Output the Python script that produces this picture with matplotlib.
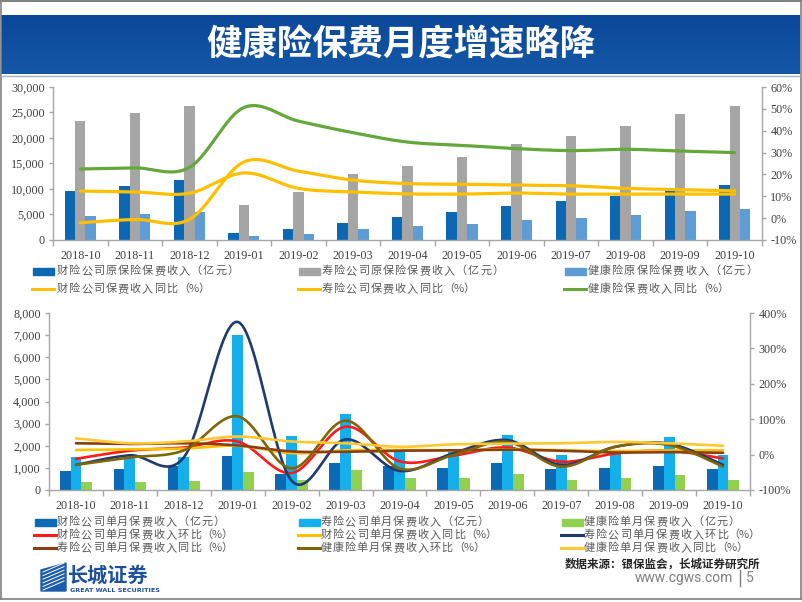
import numpy as np
import matplotlib
matplotlib.use("Agg")
import matplotlib.pyplot as plt
from matplotlib.patches import Rectangle, Polygon
from matplotlib.lines import Line2D
from matplotlib.ticker import FuncFormatter, FixedLocator
from matplotlib.colors import LinearSegmentedColormap

plt.rcParams['font.family'] = ['Noto Sans CJK SC', 'DejaVu Sans']

# ---------------- data ----------------
months = ['2018-10', '2018-11', '2018-12', '2019-01', '2019-02', '2019-03', '2019-04',
          '2019-05', '2019-06', '2019-07', '2019-08', '2019-09', '2019-10']

# top chart: cumulative premiums (亿元) and YoY (%)
prop_cum = [9600, 10600, 11750, 1430, 2160, 3400, 4500, 5500, 6670, 7650, 8700, 9800, 10700]
life_cum = [23400, 24840, 26270, 6930, 9400, 12880, 14580, 16340, 18820, 20390, 22350, 24780, 26340]
health_cum = [4640, 5040, 5490, 780, 1180, 2090, 2740, 3200, 3920, 4370, 4970, 5690, 6080]
prop_cum_yoy = [12.4, 12.0, 11.4, 20.7, 13.6, 12.0, 11.1, 11.0, 11.5, 11.0, 11.0, 11.0, 11.0]
life_cum_yoy = [-2.1, -0.6, -0.6, 25.7, 21.5, 17.4, 15.8, 15.5, 15.1, 14.8, 13.6, 13.1, 12.5]
health_cum_yoy = [22.5, 23.0, 23.2, 50.6, 44.4, 39.1, 34.8, 33.3, 31.8, 30.9, 31.5, 30.7, 30.0]

# bottom chart: single-month premiums (亿元) and growth (%)
prop_m = [870, 950, 1100, 1520, 710, 1240, 1085, 1010, 1210, 965, 995, 1100, 965]
life_m = [1510, 1480, 1480, 7010, 2440, 3440, 1720, 1730, 2490, 1580, 1730, 2400, 1580]
health_m = [375, 345, 390, 800, 450, 900, 545, 530, 710, 450, 530, 680, 450]
prop_mom = [-12, 11, 20, 37, -52, 79, -19, -3, 20, -20, 3, 11, -11]
prop_yoy_m = [13, 15, 17, 25, 4, 12, 13, 12, 15, 12, 10, 12, 12]
life_mom = [-29, -2, -8, 375, -74, 43, -46, 4, 41, -29, 22, 31, -29]
life_yoy_m = [32, 30, 32, 26, 9, 8, 11, 12, 14, 11, 6, 7, 5]
health_mom = [-29, -8, 12, 108, -39, 96, -39, -1, 36, -34, 22, 27, -34]
health_yoy_m = [46, 32, 37, 51, 37, 32, 22, 29, 31, 32, 36, 32, 25]

W, H = 802, 602
fig = plt.figure(figsize=(W / 100, H / 100), dpi=100)


def fx(px):
    return px / W


def fy(py):
    return 1 - py / H


def smooth(xs, ys, n=24):
    xs = np.asarray(xs, float)
    ys = np.asarray(ys, float)
    P = np.column_stack([xs, ys])
    out = []
    for i in range(len(P) - 1):
        p0 = P[i - 1] if i > 0 else P[i]
        p1 = P[i]
        p2 = P[i + 1]
        p3 = P[i + 2] if i + 2 < len(P) else P[i + 1]
        c1 = p1 + (p2 - p0) / 6.0
        c2 = p2 - (p3 - p1) / 6.0
        t = np.linspace(0, 1, n, endpoint=(i == len(P) - 2))[:, None]
        seg = ((1 - t) ** 3) * p1 + 3 * ((1 - t) ** 2) * t * c1 + 3 * (1 - t) * t ** 2 * c2 + t ** 3 * p2
        out.append(seg)
    seg = np.vstack(out)
    return seg[:, 0], seg[:, 1]


# ---------------- page decoration ----------------
fig.add_artist(Line2D([fx(0.5), fx(0.5)], [fy(0), fy(599)], color='#808080', lw=1.2))
fig.add_artist(Line2D([fx(800.5), fx(800.5)], [fy(0), fy(599)], color='#808080', lw=1.2))
fig.add_artist(Line2D([fx(0), fx(802)], [fy(0.8), fy(0.8)], color='#808080', lw=1.5))
fig.add_artist(Line2D([fx(0), fx(802)], [fy(598.5), fy(598.5)], color='#808080', lw=1.2))

bax = fig.add_axes([fx(1), fy(74), fx(799), (74 - 15) / H])
grad = np.linspace(0, 1, 64)[:, None]
cm = LinearSegmentedColormap.from_list('b', ['#0A4799', '#1558A6'])
bax.imshow(grad, aspect='auto', cmap=cm, extent=[0, 1, 0, 1])
bax.set_axis_off()
fig.add_artist(Line2D([fx(1), fx(800)], [fy(75.5), fy(75.5)], color='#9FB3CF', lw=1.0))
fig.text(fx(401), fy(45), '健康险保费月度增速略降', color='white', fontsize=25.5,
         fontweight='bold', ha='center', va='center')

tick_font = {'family': 'Liberation Serif', 'size': 8.7}
tick_color = '#404040'
spine_color = '#A6A6A6'


def style_axes(ax, axr, n):
    ax.set_xlim(-0.5, n - 0.5)
    for s in ['top', 'right']:
        ax.spines[s].set_visible(False)
    for s in ['top', 'left', 'bottom']:
        axr.spines[s].set_visible(False)
    for a, s in [(ax, 'left'), (ax, 'bottom'), (axr, 'right')]:
        a.spines[s].set_color(spine_color)
        a.spines[s].set_linewidth(1.0)
    ax.xaxis.set_major_locator(FixedLocator(range(n)))
    ax.set_xticks(np.arange(-0.5, n, 1.0), minor=True)
    ax.set_xticklabels(months, fontdict=tick_font, color=tick_color)
    ax.tick_params(axis='x', which='major', length=0, pad=7)
    ax.tick_params(axis='x', which='minor', length=4, color=spine_color, width=1)
    ax.tick_params(axis='y', length=3, color=spine_color, width=1, pad=3)
    axr.tick_params(axis='y', length=3, color=spine_color, width=1, pad=3)
    for lab in ax.get_yticklabels() + axr.get_yticklabels():
        lab.set_fontfamily('Liberation Serif')
        lab.set_fontsize(8.7)
        lab.set_color(tick_color)
    ax.patch.set_alpha(0)


x = np.arange(len(months))

# ---------------- top chart ----------------
ax1 = fig.add_axes([fx(53), fy(240), fx(762 - 53), (240 - 87) / H])
bw = 0.19
b1 = ax1.bar(x - bw, prop_cum, bw, color='#0D68B4', zorder=2)
b2 = ax1.bar(x, life_cum, bw, color='#A5A5A5', zorder=2)
b3 = ax1.bar(x + bw, health_cum, bw, color='#5E9CD6', zorder=2)
ax1.set_ylim(0, 30000)
ax1.set_yticks(range(0, 30001, 5000))
ax1.yaxis.set_major_formatter(FuncFormatter(lambda v, p: f'{int(v):,}'))
ax1r = ax1.twinx()
ax1r.set_ylim(-10, 60)
ax1r.set_yticks(range(-10, 61, 10))
ax1r.yaxis.set_major_formatter(FuncFormatter(lambda v, p: f'{int(v)}%'))
sx, sy = smooth(x, prop_cum_yoy)
l1, = ax1r.plot(sx, sy, color='#FFC000', lw=2.3, zorder=3, solid_capstyle='round')
sx, sy = smooth(x, life_cum_yoy)
l2, = ax1r.plot(sx, sy, color='#FFBF00', lw=2.3, zorder=3, solid_capstyle='round')
sx, sy = smooth(x, health_cum_yoy)
l3, = ax1r.plot(sx, sy, color='#64A83C', lw=2.3, zorder=3, solid_capstyle='round')
style_axes(ax1, ax1r, len(months))

# ---------------- bottom chart ----------------
ax2 = fig.add_axes([fx(49), fy(490), fx(750 - 49), (490 - 313) / H])
bw2 = 0.2
c1 = ax2.bar(x - bw2, prop_m, bw2, color='#0B69B6', zorder=2)
c2 = ax2.bar(x, life_m, bw2, color='#15AFEB', zorder=2)
c3 = ax2.bar(x + bw2, health_m, bw2, color='#92D050', zorder=2)
ax2.set_ylim(0, 8000)
ax2.set_yticks(range(0, 8001, 1000))
ax2.yaxis.set_major_formatter(FuncFormatter(lambda v, p: f'{int(v):,}'))
ax2r = ax2.twinx()
ax2r.set_ylim(-100, 400)
ax2r.set_yticks(range(-100, 401, 100))
ax2r.yaxis.set_major_formatter(FuncFormatter(lambda v, p: f'{int(v)}%'))
line_specs = [
    (prop_mom, '#FF1A1A'),
    (prop_yoy_m, '#FFC000'),
    (life_mom, '#1F3A6E'),
    (life_yoy_m, '#8A3E12'),
    (health_mom, '#7F6408'),
    (health_yoy_m, '#FFC830'),
]
lines2 = []
for vals, col in line_specs:
    sx, sy = smooth(x, vals)
    ln, = ax2r.plot(sx, sy, color=col, lw=1.9, zorder=3, solid_capstyle='round')
    lines2.append(ln)
style_axes(ax2, ax2r, len(months))

# ---------------- legends (drawn manually, letter-spaced text) ----------------
leg_color = '#595959'
leg_fs = 8.0


def spaced_text(tx, ty, text, adv):
    cx = tx
    for ch in text:
        w = adv if ord(ch) > 255 else adv * 0.62
        fig.text(fx(cx + w / 2), fy(ty), ch, fontsize=leg_fs, color=leg_color,
                 ha='center', va='center')
        cx += w


def leg_entry(px, py, kind, color, text, tx, adv):
    if kind == 'bar':
        fig.add_artist(Rectangle((fx(px), fy(py + 3.5)), fx(21), 7 / H, color=color,
                                 transform=fig.transFigure))
    else:
        fig.add_artist(Line2D([fx(px), fx(px + 22)], [fy(py), fy(py)], color=color, lw=2.2,
                              transform=fig.transFigure))
    spaced_text(tx, py, text, adv)


top_leg = [
    (33, 271, 'bar', b1.patches[0].get_facecolor(), '财险公司原保险保费收入（亿元）', 56),
    (299, 271, 'bar', b2.patches[0].get_facecolor(), '寿险公司原保险保费收入（亿元）', 321),
    (565, 271, 'bar', b3.patches[0].get_facecolor(), '健康险原保险保费收入（亿元）', 587),
    (32, 289, 'line', l1.get_color(), '财险公司保费收入同比（%）', 56),
    (298, 289, 'line', l2.get_color(), '寿险公司保费收入同比（%）', 321),
    (564, 289, 'line', l3.get_color(), '健康险保费收入同比（%）', 587),
]
for e in top_leg:
    leg_entry(*e, 12.2)

bot_leg = [
    (35, 522, 'bar', c1.patches[0].get_facecolor(), '财险公司单月保费收入（亿元）', 56),
    (299, 522, 'bar', c2.patches[0].get_facecolor(), '寿险公司单月保费收入（亿元）', 320),
    (562, 522, 'bar', c3.patches[0].get_facecolor(), '健康险单月保费收入（亿元）', 583),
    (34, 535, 'line', lines2[0].get_color(), '财险公司单月保费收入环比（%）', 56),
    (298, 535, 'line', lines2[1].get_color(), '财险公司单月保费收入同比（%）', 320),
    (561, 535, 'line', lines2[2].get_color(), '寿险公司单月保费收入环比（%）', 583),
    (34, 548, 'line', lines2[3].get_color(), '寿险公司单月保费收入同比（%）', 56),
    (298, 548, 'line', lines2[4].get_color(), '健康险单月保费收入环比（%）', 320),
    (561, 548, 'line', lines2[5].get_color(), '健康险单月保费收入同比（%）', 583),
]
for e in bot_leg:
    leg_entry(*e, 12.1)

# ---------------- footer ----------------
fig.text(fx(760), fy(564), '数据来源：银保监会，长城证券研究所', fontsize=8.3, color='#262626',
         fontweight='bold', ha='right', va='center')
fig.text(fx(733), fy(578), 'www.cgws.com', family='Roboto', fontsize=10, color='#7F7F7F',
         ha='right', va='center')
fig.add_artist(Line2D([fx(740), fx(740)], [fy(570), fy(586)], color='#7F7F7F', lw=1.0))
fig.text(fx(746), fy(578), '5', family='Roboto', fontsize=10, color='#7F7F7F',
         ha='left', va='center')

# logo
fig.add_artist(Polygon([[fx(41), fy(591)], [fx(66), fy(591)], [fx(66), fy(563)], [fx(41), fy(570)]],
                       closed=True, color='#1C5DAB', transform=fig.transFigure))
for k in range(6):
    yb = 590 - k * 3.6
    fig.add_artist(Line2D([fx(43), fx(64)], [fy(yb), fy(yb - 9)], color='white', lw=0.7,
                          transform=fig.transFigure))
fig.text(fx(68), fy(575), '长城证券', fontsize=14.5, color='#1C4F9C', fontweight='bold',
         ha='left', va='center')
fig.text(fx(70), fy(590), 'GREAT WALL SECURITIES', family='DejaVu Sans', fontsize=4.6,
         color='#1C4F9C', ha='left', va='center', fontweight='bold')

fig.savefig('out.png', dpi=100)
